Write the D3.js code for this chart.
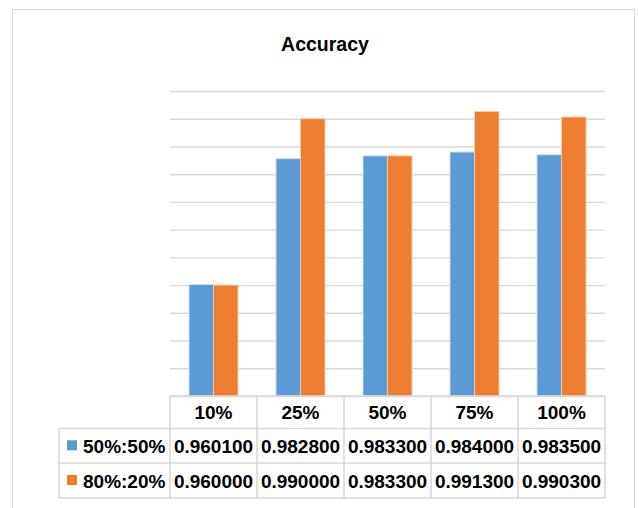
<!DOCTYPE html>
<html>
<head>
<meta charset="utf-8">
<script src="https://cdn.jsdelivr.net/npm/d3@7/dist/d3.min.js"></script>
<style>
  html, body { margin: 0; padding: 0; background: #ffffff; }
  svg { display: block; }
  text { font-family: "Liberation Sans", Arial, sans-serif; fill: #000; }
</style>
</head>
<body>
<svg id="chart" width="639" height="508"></svg>
<script>
// Accuracy for each training share, two split ratios
const categories = ["10%", "25%", "50%", "75%", "100%"];
const seriesNames = ["50%:50%", "80%:20%"];
const series5050 = [0.9601, 0.9828, 0.9833, 0.9840, 0.9835];
const series8020 = [0.9600, 0.9900, 0.9833, 0.9913, 0.9903];
const seriesColors = ["#5b9bd5", "#ed7d31"];
const yDomain = [0.94, 0.995];
const title = "Accuracy";

const seriesValues = [series5050, series8020];

const svg = d3.select("#chart");

// chart frame
svg.append("rect")
  .attr("x", 12.5).attr("y", 9.5)
  .attr("width", 622).attr("height", 520)
  .attr("fill", "#fff")
  .attr("stroke", "#d9d9d9").attr("stroke-width", 1.2);

const plot = { left: 170, right: 605, top: 91, bottom: 396 };
const legendLeft = 59;

svg.append("text")
  .attr("x", 325).attr("y", 51)
  .attr("text-anchor", "middle")
  .attr("font-size", 19.5).attr("font-weight", "bold")
  .text(title);

const x = d3.scaleBand()
  .domain(categories)
  .range([plot.left, plot.right])
  .paddingInner(0).paddingOuter(0);

const x1 = d3.scaleBand()
  .domain(seriesNames)
  .range([0, x.bandwidth()])
  .paddingInner(0).paddingOuter(0.776);

const y = d3.scaleLinear()
  .domain(yDomain)
  .range([plot.bottom, plot.top]);

// horizontal gridlines
const yAxis = d3.axisLeft(y)
  .ticks(11)
  .tickSize(-(plot.right - plot.left))
  .tickFormat("");
const gAxis = svg.append("g")
  .attr("transform", `translate(${plot.left},0)`)
  .call(yAxis);
gAxis.select(".domain").remove();
gAxis.selectAll(".tick line")
  .attr("stroke", "#d9d9d9").attr("stroke-width", 1.4);

// bars
const groups = svg.append("g").selectAll("g")
  .data(categories)
  .join("g")
  .attr("transform", d => `translate(${x(d)},0)`);

groups.selectAll("rect")
  .data((c, i) => seriesNames.map((s, k) => ({ s, k, v: seriesValues[k][i] })))
  .join("rect")
  .attr("x", d => x1(d.s))
  .attr("y", d => y(d.v))
  .attr("width", x1.bandwidth())
  .attr("height", d => y(yDomain[0]) - y(d.v))
  .attr("fill", d => seriesColors[d.k])
  .attr("stroke", (d) => d.k === 0 ? "#d0dbe6" : "#f6c9a8")
  .attr("stroke-width", 1);

// data table below the plot
const headerTop = plot.bottom, headerBottom = 428.5;
const row1Bottom = 463, row2Bottom = 498;
const rowTops = [headerBottom, row1Bottom];
const rowBottoms = [row1Bottom, row2Bottom];
const lineColor = "#d9d9d9", lw = 1.6;

const table = svg.append("g");
const line = (x1p, y1p, x2p, y2p) => table.append("line")
  .attr("x1", x1p).attr("y1", y1p).attr("x2", x2p).attr("y2", y2p)
  .attr("stroke", lineColor).attr("stroke-width", lw);

// horizontal rules
line(plot.left, headerTop, plot.right, headerTop);
line(legendLeft, headerBottom, plot.right, headerBottom);
line(legendLeft, row1Bottom, plot.right, row1Bottom);
line(legendLeft, row2Bottom, plot.right, row2Bottom);
// vertical rules
line(legendLeft, headerBottom, legendLeft, row2Bottom);
categories.forEach(c => line(x(c), headerTop, x(c), row2Bottom));
line(plot.right, headerTop, plot.right, row2Bottom);

// column headers
table.selectAll("text.cat")
  .data(categories)
  .join("text")
  .attr("class", "cat")
  .attr("x", d => x(d) + x.bandwidth() / 2)
  .attr("y", (headerTop + headerBottom) / 2 + 7)
  .attr("text-anchor", "middle")
  .attr("font-size", 19).attr("font-weight", "bold")
  .text(d => d);

const fmt = d3.format(".6f");
seriesNames.forEach((s, k) => {
  const cy = (rowTops[k] + rowBottoms[k]) / 2;
  table.append("rect")
    .attr("x", 67).attr("y", cy - 5.5)
    .attr("width", 10).attr("height", 10)
    .attr("fill", seriesColors[k]);
  table.append("text")
    .attr("x", 83).attr("y", cy + 7)
    .attr("font-size", 19).attr("font-weight", "bold")
    .text(s);
  table.selectAll(null)
    .data(seriesValues[k])
    .join("text")
    .attr("x", (d, i) => x(categories[i]) + x.bandwidth() / 2)
    .attr("y", cy + 7)
    .attr("text-anchor", "middle")
    .attr("font-size", 19).attr("font-weight", "bold")
    .text(d => fmt(d));
});
</script>
</body>
</html>
